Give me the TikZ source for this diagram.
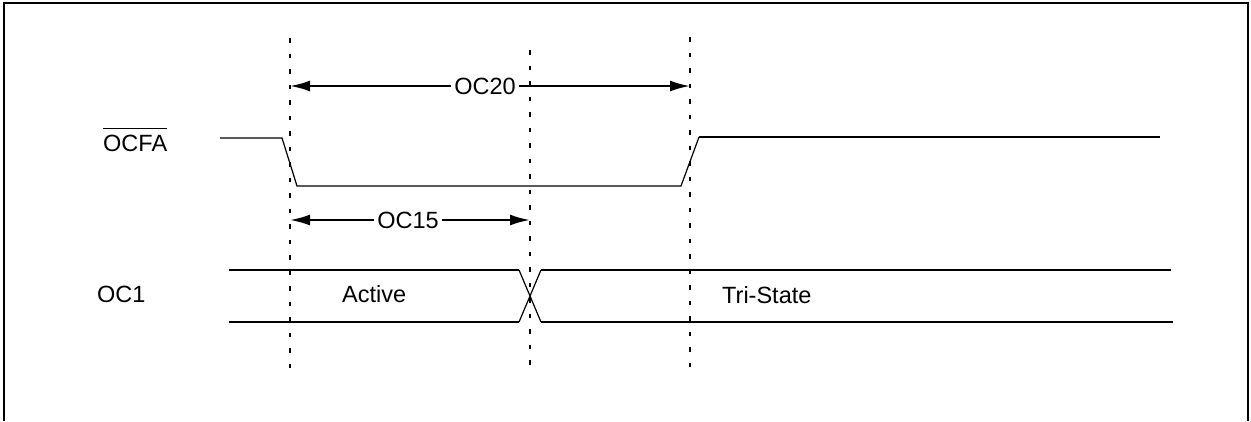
\documentclass[tikz,border=0pt]{standalone}
\usepackage{fontspec}
\setmainfont{Liberation Sans}
\usetikzlibrary{arrows.meta}

\begin{document}
\begin{tikzpicture}[x=1pt,y=-1pt]

\tikzstyle{sig}=[line width=1.2pt]
\tikzstyle{bus}=[line width=2.2pt]
\tikzstyle{tmark}=[line width=2.2pt,dash pattern=on 4.5pt off 11pt]
\tikzstyle{dim}=[line width=2.2pt,-{Latex[length=20pt,width=11pt]}]
\tikzstyle{lbl}=[inner sep=0pt,font=\fontsize{23.5}{28}\selectfont]

\useasboundingbox (0,0) rectangle (1251,421);

% frame
\draw[line width=2.4pt] (4,421)--(4,3)--(1248,3)--(1248,421);

% time marks
\coordinate (m1) at (290,0);
\coordinate (m2) at (530,0);
\coordinate (m3) at (690,0);
\draw[tmark] (290,38)--(290,378);
\draw[tmark] (530,50)--(530,374);
\draw[tmark] (690,37)--(690,370);

% labels
\node [anchor=west,lbl] (ocfa) at (103,143){OCFA};
\draw[line width=1.6pt] ([yshift=6pt]ocfa.north west)--([yshift=6pt]ocfa.north east);
\node [anchor=west,lbl] (oc1) at (97,294){OC1};
\node [anchor=west,lbl] (act) at (342,294){Active};
\node [anchor=west,lbl] (tri) at (722,295){Tri-State};

% OCFA signal
\draw[sig] (220,138)--(282,138)--(297,186)--(681,186)--(699,137);
\draw[bus] (699,137)--(1160,137);

% OC1 bus
\draw[bus] (229,270)--(519,270);
\draw[bus] (229,322)--(519,322);
\draw[sig] (519,270)--(541,322);
\draw[sig] (519,322)--(541,270);
\draw[bus] (541,270)--(1171,270);
\draw[bus] (541,322)--(1173,322);

% OC20 and OC15
\node [lbl,inner xsep=3pt] (oc20) at (485,86){OC20};
\draw[dim] (oc20.west)--(m1 |- oc20.west);
\draw[dim] (oc20.east)--(m3 |- oc20.east);
\node [lbl,inner xsep=3pt] (oc15) at (408,220){OC15};
\draw[dim] (oc15.west)--(m1 |- oc15.west);
\draw[dim] (oc15.east)--(m2 |- oc15.east);

\end{tikzpicture}
\end{document}
